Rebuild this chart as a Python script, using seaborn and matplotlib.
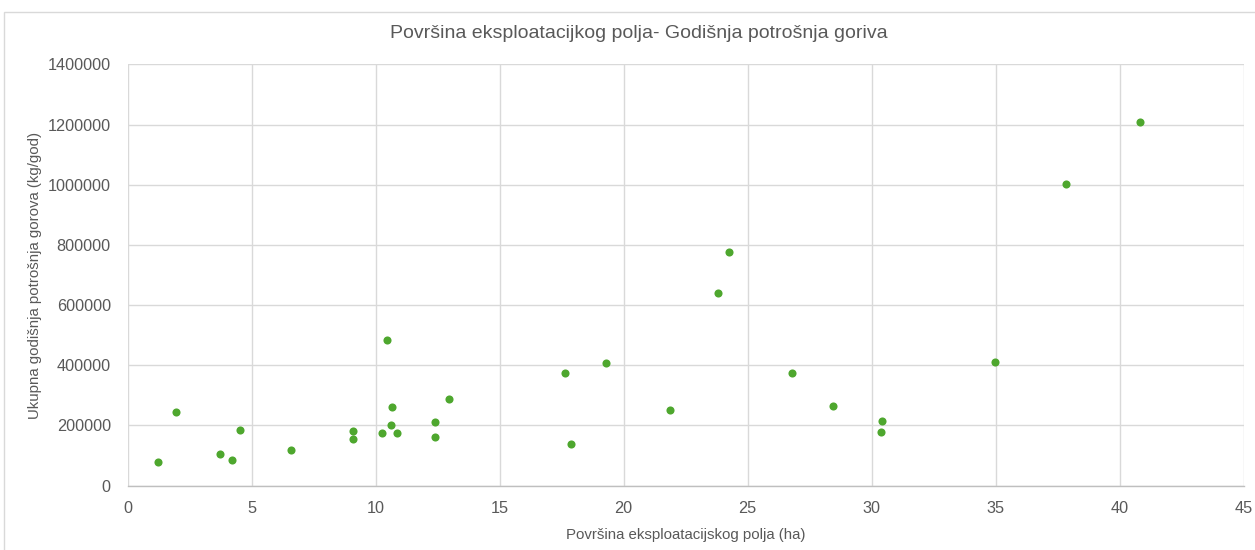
import matplotlib
matplotlib.use("Agg")
import matplotlib.pyplot as plt
import seaborn as sns
import pandas as pd
from matplotlib.patches import Rectangle

# ---- data ----
povrsina_ha = [1.24, 1.94, 3.74, 4.20, 4.52, 6.59, 9.10, 9.10, 10.25, 10.48,
               10.61, 10.68, 10.87, 12.39, 12.41, 12.98, 17.64, 17.87, 19.31,
               21.86, 23.80, 24.24, 26.78, 28.45, 30.38, 30.42, 34.98, 37.85, 40.83]
potrosnja_kg = [77000, 243000, 106000, 86000, 183000, 117000, 180000, 153000, 173000, 483000,
                200000, 260000, 175000, 162000, 210000, 288000, 373000, 138000, 406000,
                252000, 640000, 777000, 373000, 266000, 178000, 214000, 412000, 1004000, 1210000]
x_ticks = [0, 5, 10, 15, 20, 25, 30, 35, 40, 45]
y_ticks = [0, 200000, 400000, 600000, 800000, 1000000, 1200000, 1400000]

title = "Površina eksploatacijkog polja- Godišnja potrošnja goriva"
x_label = "Površina eksploatacijskog polja (ha)"
y_label = "Ukupna godišnja potrošnja gorova (kg/god)"

df = pd.DataFrame({"x": povrsina_ha, "y": potrosnja_kg})

sns.set_theme(style="white")
plt.rcParams["font.family"] = ["Liberation Sans", "DejaVu Sans"]

TEXT = "#595959"
GRID = "#D9D9D9"
GREEN = "#4EA72E"

fig = plt.figure(figsize=(12.55, 5.5), dpi=100)
W, H = 1255, 550
ax = fig.add_axes([127.5 / W, 1 - 485.5 / H, (1243.5 - 127.5) / W, (485.5 - 64.5) / H])

# chart border
fig.patches.append(Rectangle((4 / W, -0.1), 1.2, 1 - 12 / H + 0.1, transform=fig.transFigure,
                             fill=False, edgecolor=GRID, linewidth=1.0, zorder=0))

sns.scatterplot(data=df, x="x", y="y", ax=ax, color=GREEN, s=34, linewidth=0, zorder=3)

ax.set_xlim(0, 45)
ax.set_ylim(0, 1400000)
ax.set_xticks(x_ticks)
ax.set_yticks(y_ticks)
ax.set_xticklabels([str(v) for v in x_ticks])
ax.set_yticklabels([str(v) for v in y_ticks])
ax.grid(True, color=GRID, linewidth=1.0, zorder=0)
ax.set_axisbelow(True)
for side in ["top", "right", "left"]:
    ax.spines[side].set_visible(False)
ax.spines["bottom"].set_color("#BFBFBF")
ax.spines["bottom"].set_linewidth(1.0)
ax.tick_params(axis="both", length=0, colors=TEXT, labelsize=11.7)
ax.tick_params(axis="x", pad=11)
ax.tick_params(axis="y", pad=12)

ax.set_xlabel(x_label, color=TEXT, fontsize=10.8, labelpad=9)
ax.set_ylabel(y_label, color=TEXT, fontsize=10.8, labelpad=4)
fig.text(0.5 * (387 + 890) / W, 1 - 33 / H, title, ha="center", va="center",
         color=TEXT, fontsize=14)

fig.savefig("out.png", dpi=100, facecolor="white")
